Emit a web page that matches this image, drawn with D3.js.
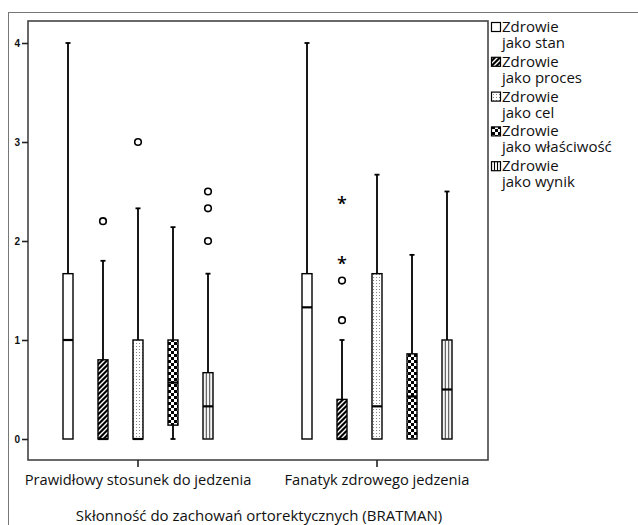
<!DOCTYPE html>
<html lang="pl">
<head>
<meta charset="UTF-8">
<title>Boxplot</title>
<script src="https://d3js.org/d3.v7.min.js"></script>
<style>
  body { margin: 0; background: #fff; }
  text { font-family: "Open Sans", "Noto Sans", sans-serif; fill: #111; }
</style>
</head>
<body>
<script>
    // categories on the x axis
    var groups = ["Prawidłowy stosunek do jedzenia", "Fanatyk zdrowego jedzenia"];
    // series (legend entries)
    var series = ["stan", "proces", "cel", "właściwość", "wynik"];
    var yTicks = [0, 1, 2, 3, 4];

    // box statistics per group, one value per series
    var whiskerLow = [[0, 0, 0, 0, 0], [0, 0, 0, 0, 0]];
    var q1 = [[0, 0, 0, 0.14, 0], [0, 0, 0, 0, 0]];
    var median = [[1, 0, 0, 0.57, 0.33], [1.33, 0, 0.33, 0.43, 0.5]];
    var q3 = [[1.67, 0.8, 1, 1, 0.67], [1.67, 0.4, 1.67, 0.86, 1]];
    var whiskerHigh = [[4, 1.8, 2.33, 2.14, 1.67], [4, 1, 2.67, 1.86, 2.5]];
    // outliers (circles) and extremes (stars)
    var outliers = [[[], [2.2], [3], [], [2, 2.33, 2.5]], [[], [1.2, 1.6], [], [], []]];
    var extremes = [[[], [], [], [], []], [[], [1.8, 2.4], [], [], []]];

    var width = 638, height = 525;
    var svg = d3.select("body").append("svg")
        .attr("width", width)
        .attr("height", height);

    // patterns
    var defs = svg.append("defs");
    var p1 = defs.append("pattern").attr("id", "pat-proces")
        .attr("patternUnits", "userSpaceOnUse").attr("width", 5).attr("height", 5);
    p1.append("rect").attr("width", 5).attr("height", 5).attr("fill", "#000");
    p1.append("path").attr("d", "M-1,6 L6,-1 M-1,1 L1,-1 M4,6 L6,4")
        .attr("stroke", "#fff").attr("stroke-width", 1.4);

    var p2 = defs.append("pattern").attr("id", "pat-cel")
        .attr("patternUnits", "userSpaceOnUse").attr("width", 3).attr("height", 3);
    p2.append("rect").attr("width", 3).attr("height", 3).attr("fill", "#fff");
    p2.append("rect").attr("x", 1).attr("y", 1).attr("width", 1).attr("height", 1).attr("fill", "#888");

    var p3 = defs.append("pattern").attr("id", "pat-wlasc")
        .attr("patternUnits", "userSpaceOnUse").attr("width", 6).attr("height", 6);
    p3.append("rect").attr("width", 6).attr("height", 6).attr("fill", "#fff");
    p3.append("rect").attr("width", 3).attr("height", 3).attr("fill", "#000");
    p3.append("rect").attr("x", 3).attr("y", 3).attr("width", 3).attr("height", 3).attr("fill", "#000");

    var fills = ["#fff", "url(#pat-proces)", "url(#pat-cel)", "url(#pat-wlasc)", "#f4f4f4"];

    // outer frame
    svg.append("rect")
        .attr("x", 8.5).attr("y", 12.5)
        .attr("width", 640).attr("height", 520)
        .attr("fill", "none").attr("stroke", "#777").attr("stroke-width", 1);

    var plotL = 28, plotR = 488, plotT = 21, plotB = 460;

    var y = d3.scaleLinear().domain([0, 4]).range([439, 43]);
    var x = d3.scaleBand().domain(groups).range([18.5, 496.5]);
    var xs = d3.scalePoint().domain(series).range([-70, 70]);

    svg.append("rect")
        .attr("x", plotL).attr("y", plotT)
        .attr("width", plotR - plotL).attr("height", plotB - plotT)
        .attr("fill", "#fff").attr("stroke", "#444").attr("stroke-width", 1.6);

    // y axis
    var yAxis = svg.append("g")
        .attr("transform", "translate(" + plotL + ",0)")
        .call(d3.axisLeft(y).tickValues(yTicks).tickSize(6).tickPadding(2).tickFormat(d3.format("d")));
    yAxis.select(".domain").remove();
    yAxis.selectAll("line").attr("stroke", "#222").attr("stroke-width", 1.6);
    yAxis.selectAll("text")
        .style("font-family", "Arial, 'Liberation Sans', sans-serif")
        .style("font-weight", "bold").style("font-size", "10px").attr("fill", "#222");

    // x axis
    var xAxis = svg.append("g")
        .attr("transform", "translate(0," + plotB + ")")
        .call(d3.axisBottom(x).tickSize(7).tickPadding(8));
    xAxis.select(".domain").remove();
    xAxis.selectAll("line").attr("stroke", "#222").attr("stroke-width", 1.6);
    xAxis.selectAll("text").style("font-size", "14.7px").attr("fill", "#111");

    // boxes
    groups.forEach(function (g, gi) {
        series.forEach(function (s, si) {
            var cx = x(g) + x.bandwidth() / 2 + xs(s);
            var bw = 10;
            var grp = svg.append("g");
            // whiskers
            grp.append("line")
                .attr("x1", cx).attr("x2", cx)
                .attr("y1", y(q3[gi][si])).attr("y2", y(whiskerHigh[gi][si]))
                .attr("stroke", "#000").attr("stroke-width", 1.8);
            grp.append("line")
                .attr("x1", cx - 2.5).attr("x2", cx + 2.5)
                .attr("y1", y(whiskerHigh[gi][si])).attr("y2", y(whiskerHigh[gi][si]))
                .attr("stroke", "#000").attr("stroke-width", 1.8);
            if (q1[gi][si] > whiskerLow[gi][si]) {
                grp.append("line")
                    .attr("x1", cx).attr("x2", cx)
                    .attr("y1", y(q1[gi][si])).attr("y2", y(whiskerLow[gi][si]))
                    .attr("stroke", "#000").attr("stroke-width", 1.8);
                grp.append("line")
                    .attr("x1", cx - 2.5).attr("x2", cx + 2.5)
                    .attr("y1", y(whiskerLow[gi][si])).attr("y2", y(whiskerLow[gi][si]))
                    .attr("stroke", "#000").attr("stroke-width", 1.8);
            }
            // box
            grp.append("rect")
                .attr("x", cx - bw / 2).attr("y", y(q3[gi][si]))
                .attr("width", bw).attr("height", y(q1[gi][si]) - y(q3[gi][si]))
                .attr("fill", fills[si]).attr("stroke", "#000").attr("stroke-width", 1.4);
            if (s === "wynik") {
                [-1.7, 1.7].forEach(function (o) {
                    grp.append("line")
                        .attr("x1", cx + o).attr("x2", cx + o)
                        .attr("y1", y(q3[gi][si])).attr("y2", y(q1[gi][si]))
                        .attr("stroke", "#333").attr("stroke-width", 0.9);
                });
            }
            // median
            grp.append("line")
                .attr("x1", cx - bw / 2).attr("x2", cx + bw / 2)
                .attr("y1", y(median[gi][si])).attr("y2", y(median[gi][si]))
                .attr("stroke", "#000").attr("stroke-width", 2.2);
            // outliers
            grp.selectAll("circle.out").data(outliers[gi][si]).enter()
                .append("circle")
                .attr("cx", cx).attr("cy", function (d) { return y(d); })
                .attr("r", 3.3)
                .attr("fill", "#fff").attr("stroke", "#000").attr("stroke-width", 1.6);
            grp.selectAll("text.ext").data(extremes[gi][si]).enter()
                .append("text")
                .attr("x", cx).attr("y", function (d) { return y(d) + 9; })
                .attr("text-anchor", "middle")
                .style("font-family", "'Open Sans', sans-serif")
                .style("font-size", "18px")
                .style("font-weight", "600")
                .style("fill", "#000")
                .text("*");
        });
    });

    // axis title
    svg.append("text")
        .attr("x", 259).attr("y", 521)
        .attr("text-anchor", "middle")
        .style("font-size", "15px")
        .text("Skłonność do zachowań ortorektycznych (BRATMAN)");

    // legend
    var legend = svg.append("g");
    series.forEach(function (s, si) {
        var ly = 27 + si * 34.8;
        legend.append("rect")
            .attr("x", 491.5).attr("y", ly - 4.5)
            .attr("width", 9).attr("height", 9)
            .attr("fill", fills[si]).attr("stroke", "#000").attr("stroke-width", 1.2);
        if (s === "wynik") {
            [-1.5, 1.5].forEach(function (o) {
                legend.append("line")
                    .attr("x1", 496 + o).attr("x2", 496 + o)
                    .attr("y1", ly - 4.5).attr("y2", ly + 4.5)
                    .attr("stroke", "#000").attr("stroke-width", 1);
            });
        }
        var t = legend.append("text")
            .attr("x", 502).attr("y", ly + 5)
            .style("font-size", "15px");
        t.append("tspan").attr("x", 502).text("Zdrowie");
        t.append("tspan").attr("x", 502).attr("dy", 16).text("jako " + s);
    });
</script>
</body>
</html>
